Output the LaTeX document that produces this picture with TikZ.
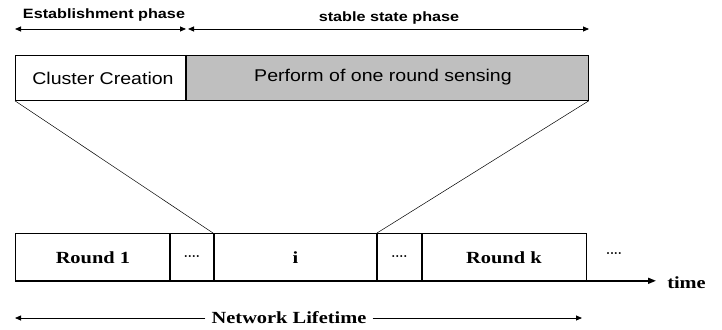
\documentclass[tikz,border=0pt]{standalone}
\usepackage{fontspec}
\setmainfont{Liberation Serif}
\setsansfont{Liberation Sans}
\usetikzlibrary{arrows.meta}
\begin{document}
\begin{tikzpicture}[x=1pt,y=-1pt,
  box/.style={draw,line width=0.8pt,inner sep=0pt,anchor=north west},
  sep/.style={line width=1.6pt},
  arr/.style={line width=0.8pt,-{Triangle[length=6pt,width=5pt]}},
  darr/.style={line width=0.8pt,{Triangle[length=6pt,width=5pt]}-{Triangle[length=6pt,width=5pt]}},
  phase/.style={font=\sffamily\bfseries\fontsize{13.5}{15}\selectfont,xscale=1.2,inner sep=0pt},
  big/.style={font=\sffamily\fontsize{17}{19}\selectfont,xscale=1.15,inner sep=0pt},
  rnd/.style={font=\rmfamily\bfseries\fontsize{17}{19}\selectfont,xscale=1.2,inner sep=0pt},
  dots/.style={font=\rmfamily\bfseries\fontsize{12}{14}\selectfont,inner sep=0pt}]
\useasboundingbox (0,0) rectangle (722,329);
% top phase arrows
\coordinate (e1) at (15,29);
\coordinate (e2) at (186,29);
\coordinate (s1) at (188,29);
\coordinate (s2) at (589,29);
\draw[darr] (e1) -- (e2);
\draw[darr] (s1) -- (s2);
\node[phase] (lest) at (104,15) {Establishment phase};
\node[phase] (lsta) at (389,18) {stable state phase};
% top boxes
\node[box,fill=white,minimum width=170pt,minimum height=45pt] (cc) at (15,55) {};
\node[box,fill=black!25,minimum width=403pt,minimum height=45pt] (pr) at (185,55) {};
\node[big] at (103,78) {Cluster Creation};
\node[big] at (383,77) {Perform of one round sensing};
\draw[sep] (cc.north east) -- (cc.south east);
% bottom boxes
\node[box,minimum width=155pt,minimum height=47pt] (r1) at (15,233) {};
\node[box,minimum width=43pt,minimum height=47pt] (d1) at (170,233) {};
\node[box,minimum width=164pt,minimum height=47pt] (ri) at (213,233) {};
\node[box,minimum width=44pt,minimum height=47pt] (d2) at (377,233) {};
\node[box,minimum width=165pt,minimum height=47pt] (rk) at (421,233) {};
\node[rnd] at ([yshift=-1pt]r1.center) {Round 1};
\node[dots] at ([yshift=-1pt]d1.center) {····};
\node[rnd] at ([yshift=-1pt]ri.center) {i};
\node[dots] at ([yshift=-1pt]d2.center) {····};
\node[rnd] at ([yshift=-1pt]rk.center) {Round k};
\node[dots] (d3) at (614,255) {····};
\draw[sep] (d1.north west) -- (d1.south west);
\draw[sep] (d1.north east) -- (d1.south east);
\draw[sep] (d2.north west) -- (d2.south west);
\draw[sep] (d2.north east) -- (d2.south east);
% time axis
\node[rnd,anchor=west] (time) at (667,283) {time};
\draw[line width=1.6pt,-{Triangle[length=8pt,width=6pt]}] (r1.south west) -- ([xshift=-11pt]time.west |- r1.south west);
% zoom lines
\draw[line width=0.5pt] (cc.south west) -- (ri.north west);
\draw[line width=0.5pt] (pr.south east) -- (d2.north west);
% network lifetime
\node[rnd] (nl) at (289,318) {Network Lifetime};
\coordinate (n1) at (15,318);
\coordinate (n2) at (582,318);
\draw[arr] ([xshift=-6pt]nl.west) -- (n1);
\draw[arr] ([xshift=6pt]nl.east) -- (n2);
\end{tikzpicture}
\end{document}
